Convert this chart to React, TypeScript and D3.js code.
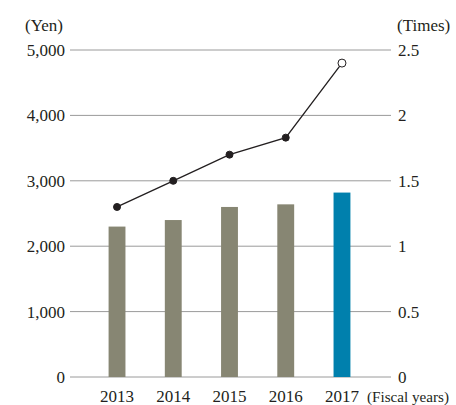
import React from "react";
import * as d3 from "d3";

const years = ["2013", "2014", "2015", "2016", "2017"];
const yenValues = [2300, 2400, 2600, 2640, 2820];
const timesValues = [1.3, 1.5, 1.7, 1.83, 2.4];
const leftTicks = [0, 1000, 2000, 3000, 4000, 5000];
const rightTicks = [0, 0.5, 1, 1.5, 2, 2.5];

const W = 456;
const H = 405;
const FONT = "'Liberation Serif', 'Times New Roman', serif";

export default function App() {
  const x = d3
    .scaleBand<string>()
    .domain(years)
    .range([88.9, 370.1])
    .paddingInner(0.7)
    .paddingOuter(0.35);
  const yL = d3.scaleLinear().domain([0, 5000]).range([377, 50]);
  const yR = d3.scaleLinear().domain([0, 2.5]).range([377, 50]);
  const cx = (d: string) => (x(d) as number) + x.bandwidth() / 2;
  const line = d3
    .line<number>()
    .x((_, i) => cx(years[i]))
    .y((d) => yR(d));
  const fmt = d3.format(",");

  return (
    <svg
      width={W}
      height={H}
      style={{ position: "absolute", left: 0, top: 0, background: "#fff" }}
      fontFamily={FONT}
    >
      {leftTicks.map((t) => (
        <g key={t}>
          <line x1={70} x2={391} y1={yL(t)} y2={yL(t)} stroke="#9a9a9a" strokeWidth={1} />
          <text x={65} y={yL(t)} dy="0.35em" textAnchor="end" fontSize={17} fill="#231f20">
            {fmt(t)}
          </text>
        </g>
      ))}
      {rightTicks.map((t) => (
        <text key={t} x={398} y={yR(t)} dy="0.35em" fontSize={17} fill="#231f20">
          {t}
        </text>
      ))}
      <text x={25} y={31} fontSize={17} fill="#231f20">(Yen)</text>
      <text x={397} y={31} fontSize={17} fill="#231f20">(Times)</text>
      {years.map((y, i) => (
        <rect
          key={y}
          x={x(y)}
          y={yL(yenValues[i])}
          width={x.bandwidth()}
          height={yL(0) - yL(yenValues[i])}
          fill={i === years.length - 1 ? "#0080ad" : "#878673"}
        />
      ))}
      {years.map((y) => (
        <text key={y} x={cx(y)} y={402} textAnchor="middle" fontSize={17} fill="#231f20">
          {y}
        </text>
      ))}
      <text x={367} y={402} fontSize={14} fill="#231f20" textLength={82} lengthAdjust="spacingAndGlyphs">
        (Fiscal years)
      </text>
      <path d={line(timesValues) || ""} fill="none" stroke="#231f20" strokeWidth={1.3} />
      {timesValues.map((v, i) => (
        <circle
          key={i}
          cx={cx(years[i])}
          cy={yR(v)}
          r={i === timesValues.length - 1 ? 4 : 3.5}
          fill={i === timesValues.length - 1 ? "#fff" : "#231f20"}
          stroke="#231f20"
          strokeWidth={1}
        />
      ))}
    </svg>
  );
}
